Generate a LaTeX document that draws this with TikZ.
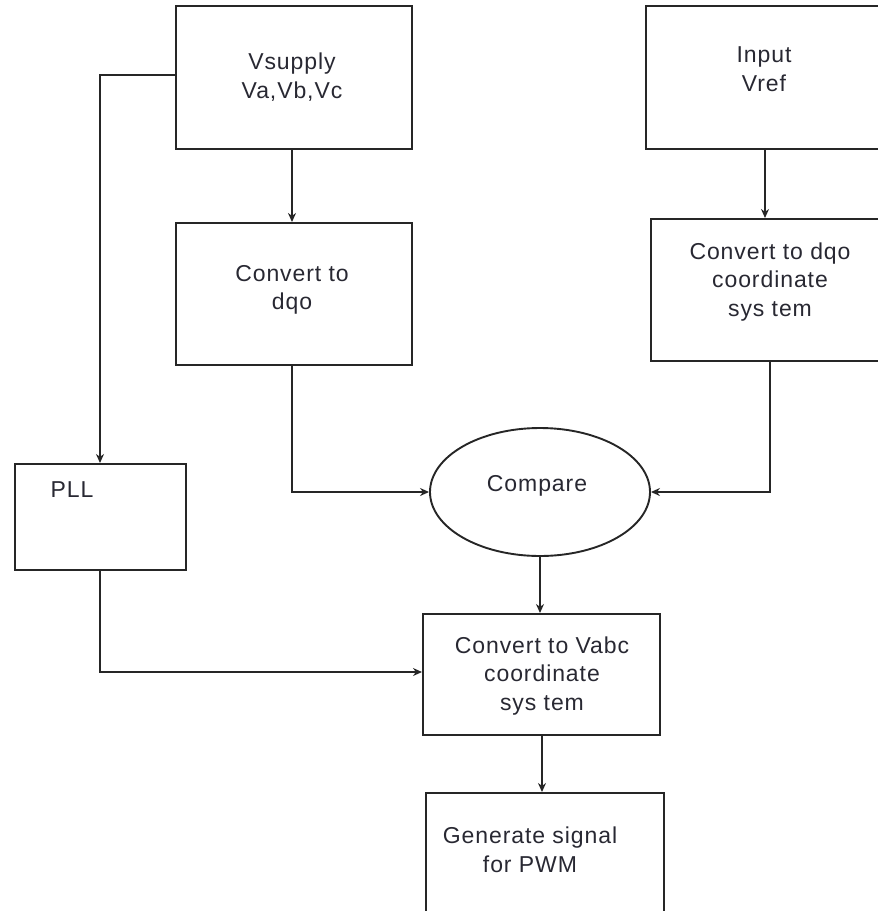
\documentclass[tikz,border=0pt]{standalone}
\usepackage{fontspec}
\setmainfont{Liberation Sans}[LetterSpace=4]
\usetikzlibrary{arrows.meta,shapes.geometric}
\definecolor{txt}{RGB}{40,40,50}
\begin{document}
\begin{tikzpicture}[x=1pt,y=-1pt,
  box/.style={draw=black!85,line width=1.9pt,rectangle,inner sep=0pt,anchor=north west},
  lbl/.style={text=txt,font=\fontsize{23}{28.5}\selectfont,align=center,inner sep=0pt},
  conn/.style={draw=black!85,line width=1.9pt,-{Stealth[length=9pt,width=8pt]}}]
\useasboundingbox (0,0) rectangle (878,911);
\clip (0,0) rectangle (878,911);
% boxes
\node[box,minimum width=236pt,minimum height=143pt] (vs) at (175,5) {};
\node[box,minimum width=236pt,minimum height=142pt] (dqo) at (175,222) {};
\node[box,minimum width=245pt,minimum height=143pt] (vref) at (645,5) {};
\node[box,minimum width=240pt,minimum height=142pt] (dqoc) at (650,218) {};
\node[box,minimum width=171pt,minimum height=106pt] (pll) at (14,463) {};
\node[draw=black!85,line width=1.9pt,ellipse,minimum width=220pt,minimum height=128pt,inner sep=0pt] (cmp) at (540,492) {};
\node[box,minimum width=237pt,minimum height=121pt] (vabc) at (422,613) {};
\node[box,minimum width=238pt,minimum height=150pt] (gen) at (425,792) {};
% labels
\node[lbl] at (292,77) {Vsupply\\Va,Vb,Vc};
\node[lbl] at (292,290) {Convert to\\dqo};
\node[lbl] at (764,69) {Input\\Vref};
\node[lbl] at (770,282) {Convert to dqo\\coordinate\\sys tem};
\node[lbl] at (72,490) {PLL};
\node[lbl] at (537,486) {Compare};
\node[lbl] at (542,676) {Convert to Vabc\\coordinate\\sys tem};
\node[lbl] at (530,850) {Generate signal\\for PWM};
% connectors
\coordinate (c1) at (292,148);
\draw[conn] (c1) -- (292,222);
\draw[conn] (vref.south -| 765,0) -- (765,218);
\draw[conn] (175,75) -| (100,463);
\draw[conn] (292,364) |- (cmp.west);
\draw[conn] (770,360) |- (cmp.east);
\draw[conn] (cmp.south) -- (540,613);
\draw[conn] (100,569) |- (422,672);
\draw[conn] (542,734) -- (542,792);
\end{tikzpicture}
\end{document}
